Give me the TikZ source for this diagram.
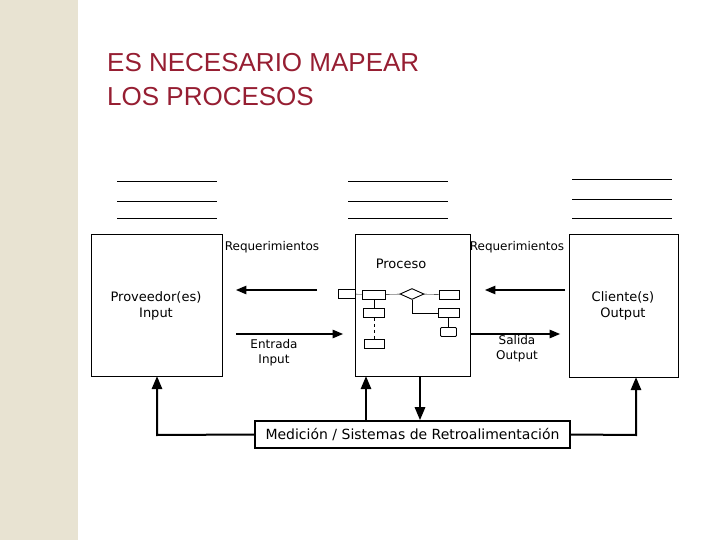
\documentclass[tikz,border=0pt]{standalone}
\usepackage{fontspec}
\setmainfont{DejaVu Sans}
\newfontfamily\titulofont{Liberation Sans}
\usetikzlibrary{arrows,shapes,calc,positioning}
\definecolor{beige}{RGB}{232,227,210}
\definecolor{tituloRojo}{RGB}{150,30,50}
\tikzstyle{caja}=[draw, line width=0.6pt, inner sep=0pt]
\tikzstyle{mini}=[draw, line width=0.9pt, minimum width=20pt, minimum height=9pt, inner sep=0pt]
\tikzstyle{flecha}=[->, >=triangle 45, line width=1.4pt]
\tikzstyle{gruesa}=[->, >=triangle 45, line width=2pt]
\tikzstyle{raya}=[line width=0.6pt]
\tikzstyle{txt}=[font=\fontsize{13}{16}\selectfont, align=center, inner sep=0pt]
\begin{document}
\begin{tikzpicture}[x=1pt,y=-1pt]
    \useasboundingbox (0,0) rectangle (720,540);
    \fill[beige] (0,0) rectangle (78,540);

    \node[anchor=west, text=tituloRojo, font=\fontsize{26}{34}\selectfont\titulofont, align=left, inner sep=0pt] (titulo) at (107,80)
        {ES NECESARIO MAPEAR\\LOS PROCESOS};

    % lineas
    \foreach \x/\a/\b/\c in {117/181/201/218, 348/181/201/218, 572/179/199/218}
        \foreach \y in {\a,\b,\c}
            \draw[raya] (\x,\y) -- ++(100,0);

    % cajas principales
    \node[caja, minimum width=131pt, minimum height=142pt] (prov) at (156.5,305) {};
    \node[caja, minimum width=115pt, minimum height=142pt] (proc) at (412.5,305) {};
    \node[caja, minimum width=109pt, minimum height=143pt] (cli) at (623.5,305.5) {};
    \node[caja, line width=2pt, minimum width=315pt, minimum height=27pt, txt, font=\fontsize{14}{16}\selectfont] (medicion) at (412.5,434.5)
        {Medición / Sistemas de Retroalimentación};

    \node[txt] (provtxt) at (156,306) {Proveedor(es)\\Input};
    \node[txt] (clitxt) at (623,306) {Cliente(s)\\Output};
    \node[txt] (proctxt) at (401,264) {Proceso};
    \node[txt, font=\fontsize{12}{15}\selectfont] (req1) at (272,247) {Requerimientos};
    \node[txt, font=\fontsize{12}{15}\selectfont] (req2) at (517,247) {Requerimientos};
    \node[txt, font=\fontsize{12}{15}\selectfont] (entrada) at (274,353) {Entrada\\Input};
    \node[txt, font=\fontsize{12}{15}\selectfont] (salida) at (517,349) {Salida\\Output};

    % flechas de requerimientos y flujo
    \coordinate (r1a) at (317,290); \coordinate (r1b) at (236,290);
    \coordinate (r2a) at (565,290); \coordinate (r2b) at (485,290);
    \coordinate (e1a) at (236,334); \coordinate (e1b) at (343,334);
    \coordinate (s1a) at (470,334); \coordinate (s1b) at (560,334);
    \draw[flecha] (r1a) -- (r1b);
    \draw[flecha] (r2a) -- (r2b);
    \draw[flecha] (e1a) -- (e1b);
    \draw[flecha] (s1a) -- (s1b);

    % diagrama interno
    \node[mini, minimum width=17pt] (m1) at (346.5,294) {};
    \node[mini, minimum width=23pt] (m2) at (374,294.5) {};
    \node[draw, diamond, aspect=2.4, line width=0.9pt, minimum width=24pt, minimum height=11pt, inner sep=0pt] (md) at (412,294) {};
    \node[mini] (m3) at (449,294.5) {};
    \node[mini, minimum width=21pt] (m4) at (374,313) {};
    \node[mini] (m5) at (374,344) {};
    \node[mini, minimum width=21pt] (m6) at (448.5,313) {};
    \node[mini, minimum width=16pt, rounded corners=1pt] (m7) at (448.5,332) {};
    \draw (m1) -- (m2);
    \draw (m2) -- (md);
    \draw (md) -- (m3);
    \draw (m2) -- (m4);
    \draw[dashed] (m4) -- (m5);
    \draw (md.south) |- (m6);
    \draw (m6) -- (m7);

    % retroalimentacion
    \coordinate (c1) at (157,435);
    \coordinate (c2) at (636,435);
    \draw[gruesa] (medicion.west) -- (c1) -- (prov.south -| c1);
    \draw[gruesa] (medicion.east) -- (c2) -- (cli.south -| c2);
    \draw[gruesa] (medicion.north -| 366,0) -- (proc.south -| 366,0);
    \draw[gruesa] (proc.south -| 420,0) -- (medicion.north -| 420,0);
\end{tikzpicture}
\end{document}
